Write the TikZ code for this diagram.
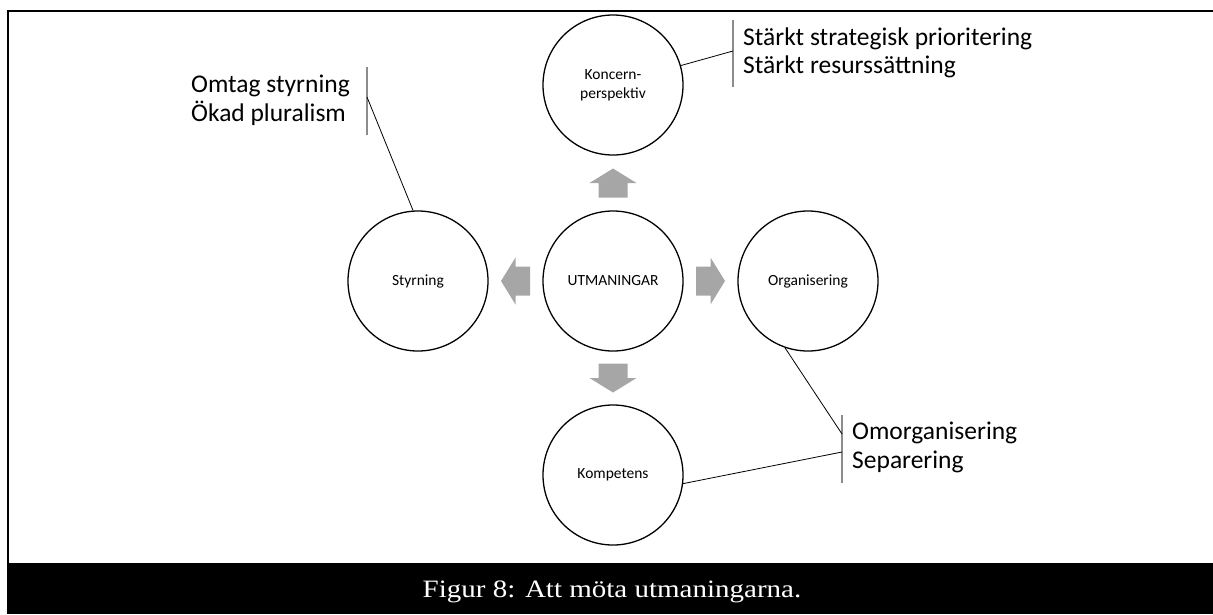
\documentclass[tikz,border=0pt]{standalone}
\usepackage{fontspec}
\setmainfont{Carlito}
\newfontfamily\capfont[FakeStretch=1.16]{Liberation Serif}
\usetikzlibrary{calc}
\definecolor{arrowgray}{HTML}{A6A6A6}
\definecolor{bargray}{HTML}{8C8C8C}

\begin{document}
\begin{tikzpicture}[x=1pt,y=-1pt,
  topic/.style={circle, draw=black, line width=1.3pt, minimum size=140pt,
    inner sep=0pt, align=center, font=\fontsize{15.5}{19}\selectfont},
  note/.style={inner sep=0pt, anchor=base west, font=\fontsize{25.5}{28.5}\selectfont},
  leader/.style={line width=0.8pt, black},
  bracket/.style={line width=1.2pt, bargray},
  blockarrow/.style={fill=arrowgray, draw=none},
]
\useasboundingbox (0,0) rectangle (1213,614);

% frame and caption band
\fill[black] (7,563) rectangle (1213,614);
\draw[line width=2.4pt] (8,614) -- (8,11) -- (1213,11);
\node[text=white, inner sep=0pt, anchor=base, font=\capfont\fontsize{25}{28}\selectfont]
  (caption) at (612,597) {Figur 8: Att möta utmaningarna.};

% the five topics
\node[topic] (utm)  at (613,281) {UTMANINGAR};
\node[topic] (kon)  at (613,85)  {Koncern-\\perspektiv};
\node[topic] (sty)  at (418,281) {Styrning};
\node[topic] (org)  at (808,281) {Organisering};
\node[topic] (komp) at (613,475) {Kompetens};

% block arrows pointing outwards from the centre
\foreach \t/\a in {kon/90, sty/180, org/0, komp/270}
  \fill[blockarrow, shift={($(utm)!0.5!(\t)$)}, rotate=\a]
    (-14.5,-14.5) -- (0,-14.5) -- (0,-23.5) -- (14.5,0) -- (0,23.5)
    -- (0,14.5) -- (-14.5,14.5) -- cycle;

% callout brackets
\coordinate (styTop) at (367,67);  \coordinate (styBot) at (367,135);
\coordinate (styJoin) at (367,97);
\coordinate (konTop) at (733,20);  \coordinate (konBot) at (733,87);
\coordinate (konJoin) at (733,51);
\coordinate (orgTop) at (842,415); \coordinate (orgBot) at (842,483);
\coordinate (orgJoin) at (842,434);
\coordinate (kompJoin) at (842,452);
\draw[bracket] (styTop) -- (styBot);
\draw[bracket] (konTop) -- (konBot);
\draw[bracket] (orgTop) -- (orgBot);

% leader lines
\draw[leader] (sty.94)  -- (styJoin);
\draw[leader] (kon.16)  -- (konJoin);
\draw[leader] (org.251) -- (orgJoin);
\draw[leader] (komp.-7) -- (kompJoin);

% callout texts
\node[note] (sty1) at (191,92)  {Omtag styrning};
\node[note] (sty2) at (191,121) {Ökad pluralism};
\node[note] (kon1) at (743,45)  {Stärkt strategisk prioritering};
\node[note] (kon2) at (743,73)  {Stärkt resurssättning};
\node[note] (org1) at (852,439) {Omorganisering};
\node[note] (org2) at (852,468) {Separering};
\end{tikzpicture}
\end{document}
